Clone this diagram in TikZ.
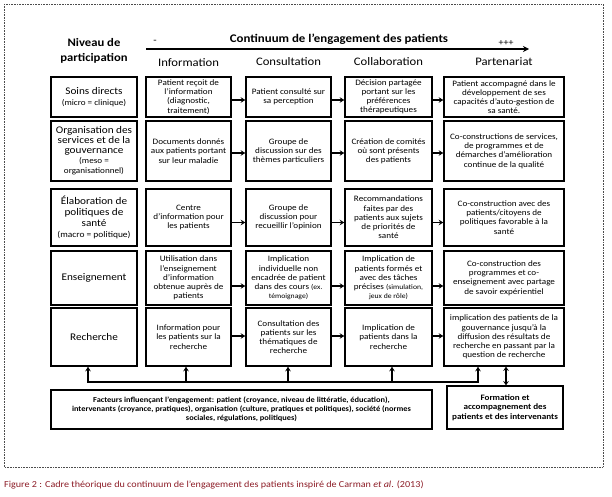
\documentclass[tikz,border=0pt]{standalone}
\usepackage{fontspec}
\setmainfont{Carlito}[FakeStretch=1.1]
\usetikzlibrary{arrows.meta}
\definecolor{capred}{RGB}{140,28,38}
\newcommand\smalltxt[1]{{\fontsize{7}{8.4}\selectfont #1}}
\newcommand\subtxt[1]{{\fontsize{8.3}{9.6}\selectfont #1}}
\tikzset{
  box/.style={draw, line width=1.5pt, align=center, inner sep=1pt, font=\fontsize{8.3}{9.2}\selectfont},
  lvl/.style={box, font=\fontsize{10.2}{11}\selectfont},
  arr/.style={line width=1.5pt, -{Stealth[length=4.5pt,width=5.5pt]}},
  hdr/.style={font=\fontsize{11.5}{13}\selectfont, inner sep=0pt},
  c0/.style={minimum width=86pt}, c1/.style={minimum width=85pt},
  c2/.style={minimum width=85pt}, c3/.style={minimum width=87pt},
  c4/.style={minimum width=120pt},
  r1/.style={minimum height=40pt}, r2/.style={minimum height=60pt},
  r3/.style={minimum height=57pt}, r4/.style={minimum height=54pt},
  r5/.style={minimum height=58pt},
}
\begin{document}
\begin{tikzpicture}[x=1pt,y=-1pt]
\useasboundingbox (0,0) rectangle (612,497);
% frame
\draw[densely dotted, line width=0.6pt, black!70] (4,4) rectangle (603,467);
% headers
\node[font=\bfseries\fontsize{11.5}{15}\selectfont, align=center, inner sep=0pt] (niv) at (94,51) {Niveau de\\participation};
\node[font=\bfseries\fontsize{11.7}{13}\selectfont, inner sep=0pt] (cont) at (339,39) {Continuum de l’engagement des patients};
\node[font=\fontsize{10}{12}\selectfont, inner sep=0pt] (minus) at (155,42) {-};
\node[font=\fontsize{9}{11}\selectfont, inner sep=0pt] (plus) at (506,43) {+++};
\coordinate (cs) at (146,49);
\coordinate (ce) at (529,49);
\draw[line width=1.5pt, -{Stealth[length=6pt,width=6pt]}] (cs) -- (ce);
\node[hdr] (hInfo) at (188.5,63) {Information};
\node[hdr] (hCons) at (288.5,62) {Consultation};
\node[hdr] (hColl) at (388.5,62) {Collaboration};
\node[hdr] (hPart) at (504,62) {Partenariat};
% row 1
\node[lvl,c0,r1] (r1c0) at (94,97) {Soins directs\\\subtxt{(micro = clinique)}};
\node[box,c1,r1] (r1c1) at (188.5,97) {Patient reçoit de\\l’information\\(diagnostic,\\traitement)};
\node[box,c2,r1] (r1c2) at (288.5,97) {Patient consulté sur\\sa perception};
\node[box,c3,r1] (r1c3) at (388.5,97) {Décision partagée\\portant sur les\\préférences\\thérapeutiques};
\node[box,c4,r1] (r1c4) at (504,97) {Patient accompagné dans le\\développement de ses\\capacités d’auto-gestion de\\sa santé.};
% row 2
\node[lvl,c0,r2,font=\fontsize{10.2}{10}\selectfont] (r2c0) at (94,151) {Organisation des\\services et de la\\gouvernance\\\subtxt{(meso =}\\\subtxt{organisationnel)}};
\node[box,c1,r2] (r2c1) at (188.5,151) {Documents donnés\\aux patients portant\\sur leur maladie};
\node[box,c2,r2] (r2c2) at (288.5,151) {Groupe de\\discussion sur des\\thèmes particuliers};
\node[box,c3,r2] (r2c3) at (388.5,151) {Création de comités\\où sont présents\\des patients};
\node[box,c4,r2] (r2c4) at (504,151) {Co-constructions de services,\\de programmes et de\\démarches d’amélioration\\continue de la qualité};
% row 3
\node[lvl,c0,r3] (r3c0) at (94,217.5) {Élaboration de\\politiques de\\santé\\{\fontsize{8.6}{10}\selectfont (macro = politique)}};
\node[box,c1,r3] (r3c1) at (188.5,217.5) {Centre\\d’information pour\\les patients};
\node[box,c2,r3] (r3c2) at (288.5,217.5) {Groupe de\\discussion pour\\recueillir l’opinion};
\node[box,c3,r3] (r3c3) at (388.5,217.5) {Recommandations\\faites par des\\patients aux sujets\\de priorités de\\santé};
\node[box,c4,r3] (r3c4) at (504,217.5) {Co-construction avec des\\patients/citoyens de\\politiques favorable à la\\santé};
% row 4
\node[lvl,c0,r4] (r4c0) at (94,278) {Enseignement};
\node[box,c1,r4] (r4c1) at (188.5,278) {Utilisation dans\\l’enseignement\\d’information\\obtenue auprès de\\patients};
\node[box,c2,r4] (r4c2) at (288.5,278) {Implication\\individuelle non\\encadrée de patient\\dans des cours \smalltxt{(ex.}\\\smalltxt{témoignage)}};
\node[box,c3,r4] (r4c3) at (388.5,278) {Implication de\\patients formés et\\avec des tâches\\précises \smalltxt{(simulation,}\\\smalltxt{jeux de rôle)}};
\node[box,c4,r4] (r4c4) at (504,278) {Co-construction des\\programmes et co-\\enseignement avec partage\\de savoir expérientiel};
% row 5
\node[lvl,c0,r5] (r5c0) at (94,337) {Recherche};
\node[box,c1,r5] (r5c1) at (188.5,337) {Information pour\\les patients sur la\\recherche};
\node[box,c2,r5] (r5c2) at (288.5,337) {Consultation des\\patients sur les\\thématiques de\\recherche};
\node[box,c3,r5] (r5c3) at (388.5,337) {Implication de\\patients dans la\\recherche};
\node[box,c4,r5] (r5c4) at (504,337) {implication des patients de la\\gouvernance jusqu’à la\\diffusion des résultats de\\recherche en passant par la\\question de recherche};
% horizontal arrows (slightly below centre, as in the reference)
\foreach \r/\d in {1/-3,2/-2,3/-5,4/-8,5/1}{
  \draw[arr] ([yshift=\d pt]r\r c1.east) -- ([yshift=\d pt]r\r c2.west);
  \draw[arr] ([yshift=\d pt]r\r c2.east) -- ([yshift=\d pt]r\r c3.west);
  \draw[arr] ([yshift=\d pt]r\r c3.east) -- ([yshift=\d pt]r\r c4.west);
}
% bottom boxes
\node[box, minimum width=381pt, minimum height=39pt, font=\bfseries\fontsize{7.6}{9}\selectfont] (fact) at (241.5,409.5) {Facteurs influençant l’engagement: patient (croyance, niveau de littératie, éducation),\\intervenants (croyance, pratiques), organisation (culture, pratiques et politiques), société (normes\\sociales, régulations, politiques)};
\node[box, minimum width=116pt, minimum height=43pt, font=\bfseries\fontsize{8.3}{9.6}\selectfont] (form) at (505,407.5) {Formation et\\accompagnement des\\patients et des intervenants};
% bus
\coordinate (b0) at (88,382);
\coordinate (b1) at (186,382);
\coordinate (b2) at (288,382);
\coordinate (b3) at (392,382);
\coordinate (b4) at (478,382);
\draw[line width=1.5pt, line cap=rect] (b0) -- (b4);
\draw[arr] (b0) -- (b0 |- r5c0.south);
\draw[arr] (b1) -- (b1 |- r5c1.south);
\draw[arr] (b2) -- (b2 |- r5c2.south);
\draw[arr] (b3) -- (b3 |- r5c3.south);
\draw[arr] (b4) -- (b4 |- r5c4.south);
\coordinate (dx) at (506,0);
\draw[line width=1.5pt, {Stealth[length=4pt,width=5.5pt]}-{Stealth[length=4pt,width=5.5pt]}] (r5c4.south -| dx) -- (form.north -| dx);
% caption
\node[anchor=base west, inner sep=0pt, text=capred, font=\fontsize{9.2}{11}\selectfont] (cap) at (4,487) {Figure 2 : Cadre théorique du continuum de l'engagement des patients inspiré de Carman \textit{et al}. (2013)};
\end{tikzpicture}
\end{document}
